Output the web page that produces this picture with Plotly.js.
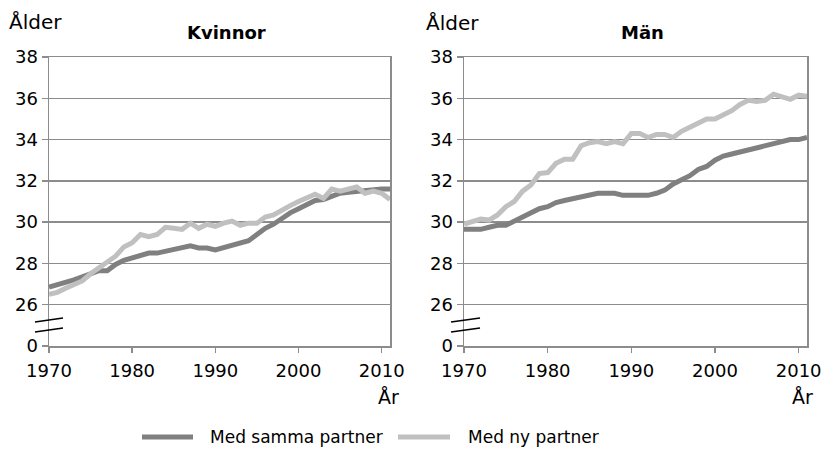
<!DOCTYPE html>
<html>
<head>
<meta charset="utf-8">
<script src="https://cdn.plot.ly/plotly-3.0.1.min.js"></script>
<style>html,body{margin:0;padding:0;background:#fff;}#chart{width:826px;height:459px;}</style>
</head>
<body>
<div id="chart"></div>
<script>
const years = [];
for (let y = 1970; y <= 2011; y++) years.push(y);

const kvinnorSamma = [26.85,26.95,27.05,27.2,27.35,27.5,27.65,27.65,27.95,28.15,28.25,28.35,28.5,28.5,28.6,28.7,28.75,28.85,28.75,28.75,28.65,28.75,28.85,28.95,29.1,29.4,29.7,29.9,30.2,30.45,30.65,30.85,31.05,31.1,31.25,31.4,31.45,31.5,31.5,31.6,31.6,31.6];
const kvinnorNy = [26.5,26.6,26.8,27.0,27.15,27.5,27.8,28.05,28.35,28.8,29.0,29.4,29.3,29.4,29.75,29.7,29.65,29.95,29.7,29.9,29.8,29.95,30.05,29.85,29.95,29.95,30.25,30.35,30.6,30.8,31.0,31.15,31.35,31.15,31.6,31.5,31.6,31.7,31.4,31.5,31.4,31.1];
const manSamma = [29.65,29.65,29.65,29.75,29.85,29.85,30.05,30.2,30.4,30.65,30.75,30.95,31.05,31.15,31.2,31.3,31.4,31.4,31.4,31.3,31.3,31.3,31.3,31.4,31.55,31.85,32.05,32.25,32.55,32.7,33.0,33.2,33.3,33.4,33.55,33.65,33.7,33.85,33.9,34.0,34.0,34.1];
const manNy = [29.9,30.0,30.15,30.1,30.35,30.75,31.0,31.5,31.8,32.35,32.4,32.85,33.05,33.05,33.7,33.85,33.9,33.8,33.9,33.8,34.3,34.3,34.1,34.25,34.25,34.1,34.4,34.6,34.8,35.0,35.0,35.2,35.4,35.7,35.9,35.85,35.9,36.2,36.1,35.95,36.15,36.1];

const yTickLabels = ['0','26','28','30','32','34','36','38'];
const xTickVals = [1970,1980,1990,2000,2010];
const seriesNames = ['Med samma partner','Med ny partner'];
const panelTitles = ['Kvinnor','Män'];

// broken axis: 0 sits one step below 26
const BREAK = 24;
const brk = arr => arr.map(v => v - BREAK);
const yTickVals = yTickLabels.map(t => t === '0' ? 0 : Number(t) - BREAK);

const dark = '#808080', light = '#c0c0c0', grid = '#8c8c8c';
const FONT = 'DejaVu Sans, sans-serif';

const traces = [
  {x: years, y: brk(kvinnorSamma), xaxis:'x', yaxis:'y', name: seriesNames[0], mode:'lines', line:{color:dark,width:5}},
  {x: years, y: brk(kvinnorNy), xaxis:'x', yaxis:'y', name: seriesNames[1], mode:'lines', line:{color:light,width:5}},
  {x: years, y: brk(manSamma), xaxis:'x2', yaxis:'y2', name: seriesNames[0], mode:'lines', line:{color:dark,width:5}},
  {x: years, y: brk(manNy), xaxis:'x2', yaxis:'y2', name: seriesNames[1], mode:'lines', line:{color:light,width:5}}
];

const W = 826, H = 459;
const px = v => v / W, py = v => 1 - v / H;

function xax(d){
  return {domain:d, range:[1970,2011], tickvals:xTickVals, ticks:'outside', ticklen:5, tickcolor:grid, tickwidth:1.5,
    showline:true, linecolor:grid, linewidth:1.5, mirror:true, showgrid:false, zeroline:false, ticklabelstandoff:3,
    tickfont:{family:FONT,size:18,color:'#000'}, fixedrange:true};
}
function yax(anchor){
  return {domain:[py(346), py(57)], range:[0,14], tickvals:yTickVals, ticktext:yTickLabels, ticks:'outside', ticklen:6, tickcolor:grid, tickwidth:1.5,
    showline:true, linecolor:grid, linewidth:1.5, mirror:true, showgrid:true, gridcolor:grid, gridwidth:1.5, zeroline:false,
    tickfont:{family:FONT,size:18,color:'#000'}, anchor:anchor, fixedrange:true};
}

const ann = (text,x,y,opts={}) => Object.assign({text, x:px(x), y:py(y), xref:'paper', yref:'paper', showarrow:false, xanchor:'center', yanchor:'middle', font:{family:FONT,size:18,color:'#000'}}, opts);

const legLine = (x0,x1,color) => ({type:'line',xref:'paper',yref:'paper',x0:px(x0),x1:px(x1),y0:py(437),y1:py(437),line:{color,width:5}});

const layout = {
  width:W, height:H, margin:{l:0,r:0,t:0,b:0}, paper_bgcolor:'#fff', plot_bgcolor:'#fff',
  showlegend:false,
  xaxis: Object.assign(xax([px(49), px(390)]), {anchor:'y'}),
  yaxis: yax('x'),
  xaxis2: Object.assign(xax([px(464), px(807)]), {anchor:'y2'}),
  yaxis2: yax('x2'),
  annotations:[
    ann(panelTitles[0],227,32,{font:{family:FONT,size:18,color:'#000',weight:'bold'}}),
    ann(panelTitles[1],642,32,{font:{family:FONT,size:18,color:'#000',weight:'bold'}}),
    ann('Ålder',35,22,{font:{family:FONT,size:20,color:'#000'}}),
    ann('Ålder',452,23,{font:{family:FONT,size:20,color:'#000'}}),
    ann('År',388,397,{font:{family:FONT,size:19,color:'#000'}}),
    ann('År',802,397,{font:{family:FONT,size:19,color:'#000'}}),
    ann(seriesNames[0],208,437,{xanchor:'left',font:{family:FONT,size:17,color:'#000'}}),
    ann(seriesNames[1],466,437,{xanchor:'left',font:{family:FONT,size:17,color:'#000'}})
  ],
  shapes:[
    {type:'line',xref:'paper',yref:'paper',x0:px(35),y0:py(322),x1:px(63),y1:py(318),line:{color:'#000',width:1.5}},
    {type:'line',xref:'paper',yref:'paper',x0:px(35),y0:py(332),x1:px(63),y1:py(328),line:{color:'#000',width:1.5}},
    {type:'line',xref:'paper',yref:'paper',x0:px(451),y0:py(322),x1:px(480),y1:py(318),line:{color:'#000',width:1.5}},
    {type:'line',xref:'paper',yref:'paper',x0:px(451),y0:py(332),x1:px(480),y1:py(328),line:{color:'#000',width:1.5}},
    legLine(142,193,dark),
    legLine(398,450,light)
  ]
};

Plotly.newPlot('chart', traces, layout, {displayModeBar:false, staticPlot:true});
</script>
</body>
</html>
